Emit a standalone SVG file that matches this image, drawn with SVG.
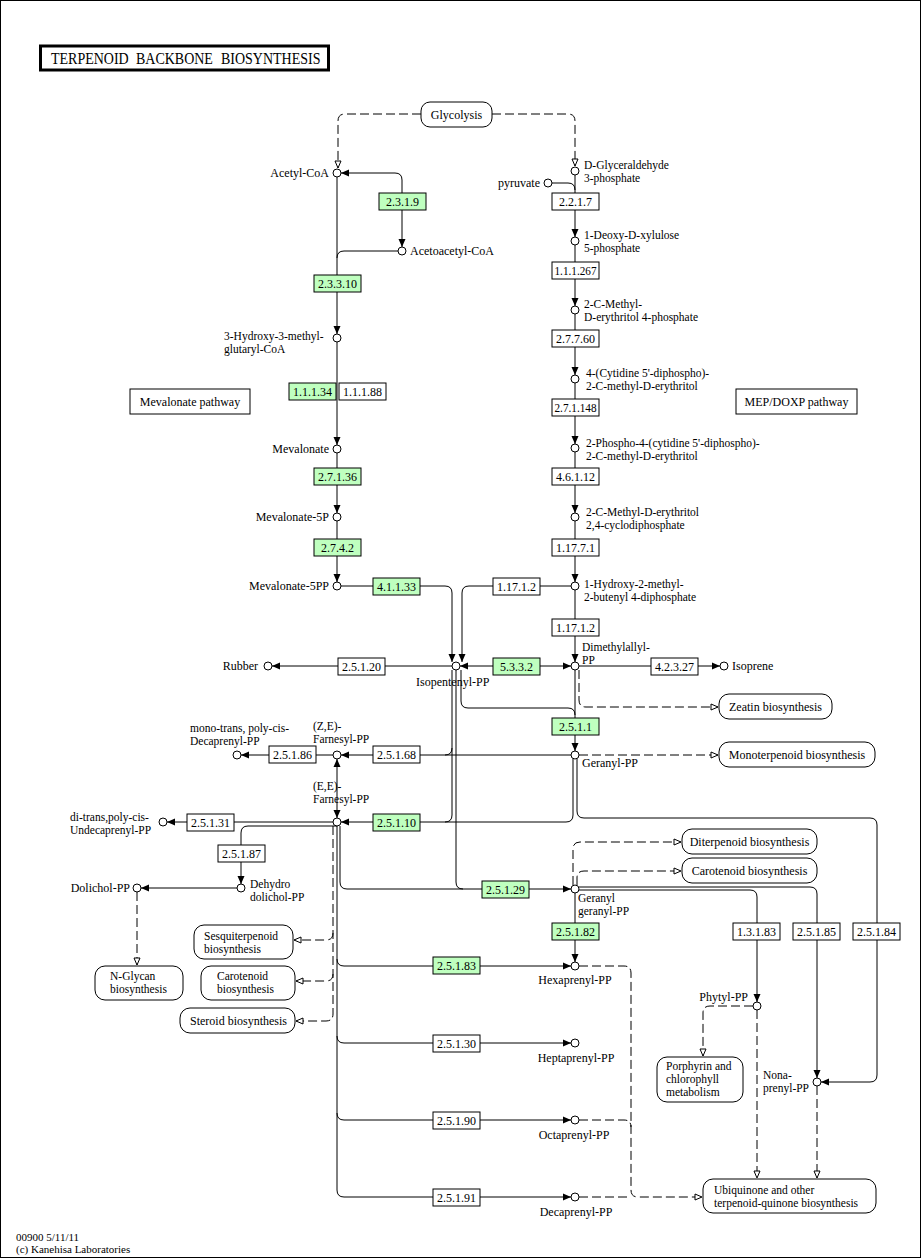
<svg xmlns="http://www.w3.org/2000/svg" width="923" height="1259" viewBox="0 0 923 1259">
<style>
text{font-family:"Liberation Serif","Times New Roman",serif;font-size:12px;fill:#000}
.s{font-size:11.5px}
.ttl{font-size:14px}
.ft{font-size:11px}
.t{text-anchor:middle}
.r{text-anchor:end}
.c{fill:#fff;stroke:#000;stroke-width:1}
.e{fill:#fff;stroke:#000;stroke-width:1}
.g{fill:#bfffbf;stroke:#000;stroke-width:1}
.m{fill:#fff;stroke:#000;stroke-width:1}
.ln{fill:none;stroke:#000;stroke-width:1}
.dl{fill:none;stroke:#000;stroke-width:1;stroke-dasharray:9 4}
.ar{marker-end:url(#fa)}
.oa{marker-end:url(#oa)}
</style>
<defs>
<marker id="fa" markerUnits="userSpaceOnUse" markerWidth="9" markerHeight="8" refX="8" refY="3.5" orient="auto" overflow="visible"><path d="M0,0 L8,3.5 L0,7 z" fill="#000"/></marker>
<marker id="oa" markerUnits="userSpaceOnUse" markerWidth="8" markerHeight="7" refX="7" refY="3" orient="auto" overflow="visible"><path d="M0,0 L7,3 L0,6 z" fill="#fff" stroke="#000" stroke-width="1" stroke-dasharray="none"/></marker>
</defs>
<rect x="0" y="0" width="923" height="1259" fill="#fff"/>
<rect x="0.5" y="0.5" width="920" height="1257" fill="none" stroke="#000"/>
<g id="title">
<rect x="40.5" y="46" width="288" height="24" fill="#fff" stroke="#000" stroke-width="3"/>
<text class="ttl" transform="translate(0,64) scale(1,1.18)"><tspan x="51" y="0">TERPENOID</tspan><tspan x="132.5" y="0"> BACKBONE</tspan><tspan x="217.5" y="0"> BIOSYNTHESIS</tspan></text>
</g>
<g id="connectors">
<path class="ln ar" d="M402,193 L402,180 Q402,173 395,173 L341,173"/>
<path class="ln ar" d="M402,210 L402,247"/>
<path class="ln" d="M398,251 L344,251 Q337,251 337,258"/>
<path class="ln ar" d="M337,177 L337,334"/>
<path class="ln ar" d="M337,342 L337,445"/>
<path class="ln ar" d="M337,453 L337,513"/>
<path class="ln ar" d="M337,521 L337,582"/>
<path class="ln ar" d="M341,586 L445,586 Q452,586 452,593 L452,662"/>
<path class="ln ar" d="M571,586 L469,586 Q462,586 462,593 L462,662"/>
<path class="ln" d="M552,183 L568,183 Q575,183 575,190"/>
<path class="ln ar" d="M575,175 L575,237"/>
<path class="ln ar" d="M575,245 L575,306"/>
<path class="ln ar" d="M575,314 L575,375"/>
<path class="ln ar" d="M575,383 L575,444"/>
<path class="ln ar" d="M575,452 L575,513"/>
<path class="ln ar" d="M575,521 L575,582"/>
<path class="ln ar" d="M575,590 L575,662"/>
<path class="ln ar" d="M516,666 L571,666"/>
<path class="ln ar" d="M516,666 L460,666"/>
<path class="ln ar" d="M579,666 L720,666"/>
<path class="ln ar" d="M452,666 L272,666"/>
<path class="ln" d="M452,670 L452,815 Q452,822 445,822"/>
<path class="ln" d="M452,748 Q452,755 445,755"/>
<path class="ln" d="M456,670 L456,882 Q456,889 463,889"/>
<path class="ln" d="M461,670 L461,701 Q461,708 468,708 L568,708 Q575,708 575,715"/>
<path class="ln ar" d="M575,670 L575,751"/>
<path class="ln ar" d="M571,755 L341,755"/>
<path class="ln ar" d="M333,755 L241,755"/>
<path class="ln ar" d="M337,790 L337,759"/>
<path class="ln ar" d="M337,790 L337,818"/>
<path class="ln ar" d="M573,759 L573,815 Q573,822 566,822 L341,822"/>
<path class="ln ar" d="M577,759 L577,811 Q577,818 584,818 L870,818 Q877,818 877,825 L877,1075 Q877,1082 870,1082 L821,1082"/>
<path class="ln ar" d="M333,822 L167,822"/>
<path class="ln ar" d="M337,826 L248,826 Q241,826 241,833 L241,884"/>
<path class="ln ar" d="M237,888 L141,888"/>
<path class="ln ar" d="M337,826 L337,1190 Q337,1197 344,1197 L571,1197"/>
<path class="ln ar" d="M337,959 Q337,966 344,966 L571,966"/>
<path class="ln ar" d="M337,1036 Q337,1043 344,1043 L571,1043"/>
<path class="ln ar" d="M337,1113 Q337,1120 344,1120 L571,1120"/>
<path class="ln ar" d="M340,826 L340,882 Q340,889 347,889 L571,889"/>
<path class="ln ar" d="M575,893 L575,962"/>
<path class="ln ar" d="M579,890 L750,890 Q757,890 757,897 L757,1002"/>
<path class="ln ar" d="M579,887 L810,887 Q817,887 817,894 L817,1078"/>
<path class="dl oa" d="M421,114 L345,114 Q338,114 338,121 L338,168"/>
<path class="dl oa" d="M492,114 L568,114 Q575,114 575,121 L575,166"/>
<path class="dl oa" d="M579,670 L579,700 Q579,707 586,707 L718,707"/>
<path class="dl oa" d="M579,755 L718,755"/>
<path class="dl oa" d="M333,826 L333,1014 Q333,1021 326,1021 L296,1021"/>
<path class="dl oa" d="M333,933 Q333,940 326,940 L294,940"/>
<path class="dl oa" d="M333,974 Q333,981 326,981 L296,981"/>
<path class="dl oa" d="M137,892 L137,965"/>
<path class="dl oa" d="M573,885 L573,849 Q573,842 580,842 L681,842"/>
<path class="dl oa" d="M577,885 L577,878 Q577,871 584,871 L681,871"/>
<path class="dl oa" d="M579,966 L624,966 Q631,966 631,973 L631,1190 Q631,1197 638,1197 L702,1197"/>
<path class="dl" d="M579,1120 L624,1120 Q631,1120 631,1127"/>
<path class="dl" d="M579,1197 L631,1197"/>
<path class="dl oa" d="M753,1006 L710,1006 Q703,1006 703,1013 L703,1056"/>
<path class="dl oa" d="M757,1010 L757,1178"/>
<path class="dl oa" d="M817,1086 L817,1178"/>
</g>
<g id="map-glycolysis"><rect class="m" x="421" y="102" width="71" height="25" rx="9"/><text class="t" x="456.5" y="119">Glycolysis</text></g>
<g id="map-mevalonate"><rect class="m" x="130" y="389" width="120" height="25"/><text class="t" x="190" y="406">Mevalonate pathway</text></g>
<g id="map-mep"><rect class="m" x="736" y="389" width="121" height="25"/><text class="t" x="796.5" y="406">MEP/DOXP pathway</text></g>
<g id="map-zeatin"><rect class="m" x="719" y="694" width="113" height="25" rx="10"/><text class="t" x="775.5" y="711">Zeatin biosynthesis</text></g>
<g id="map-monoterpenoid"><rect class="m" x="719" y="742" width="156" height="25" rx="10"/><text class="t" x="797" y="759">Monoterpenoid biosynthesis</text></g>
<g id="map-diterpenoid"><rect class="m" x="682" y="829" width="135" height="25" rx="10"/><text class="t" x="749.5" y="846">Diterpenoid biosynthesis</text></g>
<g id="map-carotenoid2"><rect class="m" x="682" y="858" width="135" height="25" rx="10"/><text class="t" x="749.5" y="875">Carotenoid biosynthesis</text></g>
<g id="map-sesquiterpenoid"><rect class="m" x="194" y="925" width="99" height="34" rx="10"/><text class="s" x="204" y="940">Sesquiterpenoid</text><text class="s" x="204" y="953">biosynthesis</text></g>
<g id="map-nglycan"><rect class="m" x="95" y="966" width="88" height="34" rx="10"/><text class="s" x="110" y="980">N-Glycan</text><text class="s" x="110" y="993">biosynthesis</text></g>
<g id="map-carotenoid1"><rect class="m" x="201" y="966" width="94" height="34" rx="10"/><text class="s" x="217" y="980">Carotenoid</text><text class="s" x="217" y="993">biosynthesis</text></g>
<g id="map-steroid"><rect class="m" x="180" y="1008" width="115" height="25" rx="10"/><text x="190" y="1025">Steroid biosynthesis</text></g>
<g id="map-porphyrin"><rect class="m" x="657" y="1057" width="86" height="45" rx="10"/><text class="s" x="666" y="1069.5">Porphyrin and</text><text class="s" x="666" y="1082.5">chlorophyll</text><text class="s" x="666" y="1095.5">metabolism</text></g>
<g id="map-ubiquinone"><rect class="m" x="703" y="1179" width="173" height="34" rx="10"/><text class="s" x="714" y="1194">Ubiquinone and other</text><text class="s" x="714" y="1207">terpenoid-quinone biosynthesis</text></g>
<g id="ec-2.3.1.9"><rect class="g" x="379" y="193" width="47" height="17"/><text class="t" x="402.5" y="206">2.3.1.9</text></g>
<g id="ec-2.3.3.10"><rect class="g" x="314" y="275" width="47" height="17"/><text class="t" x="337.5" y="288">2.3.3.10</text></g>
<g id="ec-1.1.1.34"><rect class="g" x="289" y="383" width="47" height="17"/><text class="t" x="312.5" y="396">1.1.1.34</text></g>
<g id="ec-1.1.1.88"><rect class="e" x="339" y="383" width="47" height="17"/><text class="t" x="362.5" y="396">1.1.1.88</text></g>
<g id="ec-2.7.1.36"><rect class="g" x="314" y="468" width="47" height="17"/><text class="t" x="337.5" y="481">2.7.1.36</text></g>
<g id="ec-2.7.4.2"><rect class="g" x="314" y="539" width="47" height="17"/><text class="t" x="337.5" y="552">2.7.4.2</text></g>
<g id="ec-4.1.1.33"><rect class="g" x="373" y="578" width="47" height="17"/><text class="t" x="396.5" y="591">4.1.1.33</text></g>
<g id="ec-2.2.1.7"><rect class="e" x="552" y="193" width="47" height="17"/><text class="t" x="575.5" y="206">2.2.1.7</text></g>
<g id="ec-1.1.1.267"><rect class="e" x="552" y="262" width="47" height="17"/><text class="t" x="575.5" y="275" textLength="42" lengthAdjust="spacingAndGlyphs">1.1.1.267</text></g>
<g id="ec-2.7.7.60"><rect class="e" x="552" y="330" width="47" height="17"/><text class="t" x="575.5" y="343">2.7.7.60</text></g>
<g id="ec-2.7.1.148"><rect class="e" x="552" y="399" width="47" height="17"/><text class="t" x="575.5" y="412" textLength="42" lengthAdjust="spacingAndGlyphs">2.7.1.148</text></g>
<g id="ec-4.6.1.12"><rect class="e" x="552" y="468" width="47" height="17"/><text class="t" x="575.5" y="481">4.6.1.12</text></g>
<g id="ec-1.17.7.1"><rect class="e" x="552" y="539" width="47" height="17"/><text class="t" x="575.5" y="552">1.17.7.1</text></g>
<g id="ec-1.17.1.2a"><rect class="e" x="493" y="578" width="47" height="17"/><text class="t" x="516.5" y="591">1.17.1.2</text></g>
<g id="ec-1.17.1.2b"><rect class="e" x="552" y="619" width="47" height="17"/><text class="t" x="575.5" y="632">1.17.1.2</text></g>
<g id="ec-5.3.3.2"><rect class="g" x="493" y="658" width="47" height="17"/><text class="t" x="516.5" y="671">5.3.3.2</text></g>
<g id="ec-2.5.1.20"><rect class="e" x="338" y="658" width="47" height="17"/><text class="t" x="361.5" y="671">2.5.1.20</text></g>
<g id="ec-4.2.3.27"><rect class="e" x="651" y="658" width="47" height="17"/><text class="t" x="674.5" y="671">4.2.3.27</text></g>
<g id="ec-2.5.1.1"><rect class="g" x="552" y="718" width="47" height="17"/><text class="t" x="575.5" y="731">2.5.1.1</text></g>
<g id="ec-2.5.1.68"><rect class="e" x="373" y="746" width="47" height="17"/><text class="t" x="396.5" y="759">2.5.1.68</text></g>
<g id="ec-2.5.1.86"><rect class="e" x="269" y="746" width="47" height="17"/><text class="t" x="292.5" y="759">2.5.1.86</text></g>
<g id="ec-2.5.1.10"><rect class="g" x="373" y="814" width="47" height="17"/><text class="t" x="396.5" y="827">2.5.1.10</text></g>
<g id="ec-2.5.1.31"><rect class="e" x="187" y="814" width="47" height="17"/><text class="t" x="210.5" y="827">2.5.1.31</text></g>
<g id="ec-2.5.1.87"><rect class="e" x="218" y="845" width="47" height="17"/><text class="t" x="241.5" y="858">2.5.1.87</text></g>
<g id="ec-2.5.1.29"><rect class="g" x="482" y="881" width="47" height="17"/><text class="t" x="505.5" y="894">2.5.1.29</text></g>
<g id="ec-2.5.1.82"><rect class="g" x="552" y="923" width="47" height="17"/><text class="t" x="575.5" y="936">2.5.1.82</text></g>
<g id="ec-2.5.1.83"><rect class="g" x="433" y="957" width="47" height="17"/><text class="t" x="456.5" y="970">2.5.1.83</text></g>
<g id="ec-1.3.1.83"><rect class="e" x="733" y="923" width="47" height="17"/><text class="t" x="756.5" y="936">1.3.1.83</text></g>
<g id="ec-2.5.1.85"><rect class="e" x="793" y="923" width="47" height="17"/><text class="t" x="816.5" y="936">2.5.1.85</text></g>
<g id="ec-2.5.1.84"><rect class="e" x="853" y="923" width="47" height="17"/><text class="t" x="876.5" y="936">2.5.1.84</text></g>
<g id="ec-2.5.1.30"><rect class="e" x="433" y="1035" width="47" height="17"/><text class="t" x="456.5" y="1048">2.5.1.30</text></g>
<g id="ec-2.5.1.90"><rect class="e" x="433" y="1112" width="47" height="17"/><text class="t" x="456.5" y="1125">2.5.1.90</text></g>
<g id="ec-2.5.1.91"><rect class="e" x="433" y="1189" width="47" height="17"/><text class="t" x="456.5" y="1202">2.5.1.91</text></g>
<g id="cpd-acetylcoa"><circle class="c" cx="337" cy="173" r="4"/><text class="r" x="329" y="177">Acetyl-CoA</text></g>
<g id="cpd-acetoacetylcoa"><circle class="c" cx="402" cy="251" r="4"/><text x="410" y="255">Acetoacetyl-CoA</text></g>
<g id="cpd-hmgcoa"><circle class="c" cx="337" cy="338" r="4"/><text class="s" x="224" y="340">3-Hydroxy-3-methyl-</text><text class="s" x="224" y="353">glutaryl-CoA</text></g>
<g id="cpd-mevalonate"><circle class="c" cx="337" cy="449" r="4"/><text class="r" x="329" y="453">Mevalonate</text></g>
<g id="cpd-mev5p"><circle class="c" cx="337" cy="517" r="4"/><text class="r" x="329" y="521">Mevalonate-5P</text></g>
<g id="cpd-mev5pp"><circle class="c" cx="337" cy="586" r="4"/><text class="r" x="329" y="590">Mevalonate-5PP</text></g>
<g id="cpd-gap"><circle class="c" cx="575" cy="171" r="4"/><text class="s" x="584" y="169">D-Glyceraldehyde</text><text class="s" x="584" y="182">3-phosphate</text></g>
<g id="cpd-pyruvate"><circle class="c" cx="548" cy="183" r="4"/><text class="r" x="540" y="187">pyruvate</text></g>
<g id="cpd-dxp"><circle class="c" cx="575" cy="241" r="4"/><text class="s" x="584" y="239">1-Deoxy-D-xylulose</text><text class="s" x="584" y="252">5-phosphate</text></g>
<g id="cpd-mep"><circle class="c" cx="575" cy="310" r="4"/><text class="s" x="584" y="307.5">2-C-Methyl-</text><text class="s" x="584" y="320.5">D-erythritol 4-phosphate</text></g>
<g id="cpd-cdpme"><circle class="c" cx="575" cy="379" r="4"/><text class="s" x="586" y="377">4-(Cytidine 5'-diphospho)-</text><text class="s" x="586" y="390">2-C-methyl-D-erythritol</text></g>
<g id="cpd-cdpmep"><circle class="c" cx="575" cy="448" r="4"/><text class="s" x="586" y="446.5">2-Phospho-4-(cytidine 5'-diphospho)-</text><text class="s" x="586" y="459.5">2-C-methyl-D-erythritol</text></g>
<g id="cpd-mecpp"><circle class="c" cx="575" cy="517" r="4"/><text class="s" x="586" y="515.5">2-C-Methyl-D-erythritol</text><text class="s" x="586" y="528.5">2,4-cyclodiphosphate</text></g>
<g id="cpd-hmbpp"><circle class="c" cx="575" cy="586" r="4"/><text class="s" x="584" y="587.5">1-Hydroxy-2-methyl-</text><text class="s" x="584" y="600.5">2-butenyl 4-diphosphate</text></g>
<g id="cpd-dmapp"><circle class="c" cx="575" cy="666" r="4"/><text class="s" x="582" y="651">Dimethylallyl-</text><text class="s" x="582" y="664">PP</text></g>
<g id="cpd-ipp"><circle class="c" cx="456" cy="666" r="4"/><text x="416" y="686">Isopentenyl-PP</text></g>
<g id="cpd-isoprene"><circle class="c" cx="724" cy="666" r="4"/><text x="732" y="670">Isoprene</text></g>
<g id="cpd-rubber"><circle class="c" cx="268" cy="666" r="4"/><text class="r" x="258" y="670">Rubber</text></g>
<g id="cpd-gpp"><circle class="c" cx="575" cy="755" r="4"/><text x="582" y="767">Geranyl-PP</text></g>
<g id="cpd-zefpp"><circle class="c" cx="337" cy="755" r="4"/><text class="s" x="313" y="729.5">(Z,E)-</text><text class="s" x="313" y="742.5">Farnesyl-PP</text></g>
<g id="cpd-decaprenylmono"><circle class="c" cx="237" cy="755" r="4"/><text class="s" x="190" y="731.5">mono-trans, poly-cis-</text><text class="s" x="190" y="744.5">Decaprenyl-PP</text></g>
<g id="cpd-eefpp"><circle class="c" cx="337" cy="822" r="4"/><text class="s" x="313" y="789.5">(E,E)-</text><text class="s" x="313" y="802.5">Farnesyl-PP</text></g>
<g id="cpd-undecaprenyl"><circle class="c" cx="163" cy="822" r="4"/><text class="s" x="70" y="821">di-trans,poly-cis-</text><text class="s" x="70" y="834">Undecaprenyl-PP</text></g>
<g id="cpd-dehydrodolichol"><circle class="c" cx="241" cy="888" r="4"/><text class="s" x="250" y="888">Dehydro</text><text class="s" x="250" y="901">dolichol-PP</text></g>
<g id="cpd-dolichol"><circle class="c" cx="137" cy="888" r="4"/><text class="r" x="130" y="892">Dolichol-PP</text></g>
<g id="cpd-ggpp"><circle class="c" cx="575" cy="889" r="4"/><text class="s" x="578" y="902">Geranyl</text><text class="s" x="578" y="915">geranyl-PP</text></g>
<g id="cpd-hexaprenyl"><circle class="c" cx="575" cy="966" r="4"/><text class="t" x="575" y="984">Hexaprenyl-PP</text></g>
<g id="cpd-heptaprenyl"><circle class="c" cx="575" cy="1043" r="4"/><text class="t" x="576" y="1062">Heptaprenyl-PP</text></g>
<g id="cpd-octaprenyl"><circle class="c" cx="575" cy="1120" r="4"/><text class="t" x="574" y="1139">Octaprenyl-PP</text></g>
<g id="cpd-decaprenyl"><circle class="c" cx="575" cy="1197" r="4"/><text class="t" x="576" y="1216">Decaprenyl-PP</text></g>
<g id="cpd-phytyl"><circle class="c" cx="757" cy="1006" r="4"/><text class="r" x="748" y="1001">Phytyl-PP</text></g>
<g id="cpd-nonaprenyl"><circle class="c" cx="817" cy="1082" r="4"/><text class="s" x="763" y="1079">Nona-</text><text class="s" x="763" y="1092">prenyl-PP</text></g>
<g id="footer"><text class="ft" x="16" y="1241">00900 5/11/11</text><text class="ft" x="16" y="1253">(c) Kanehisa Laboratories</text></g>
</svg>
